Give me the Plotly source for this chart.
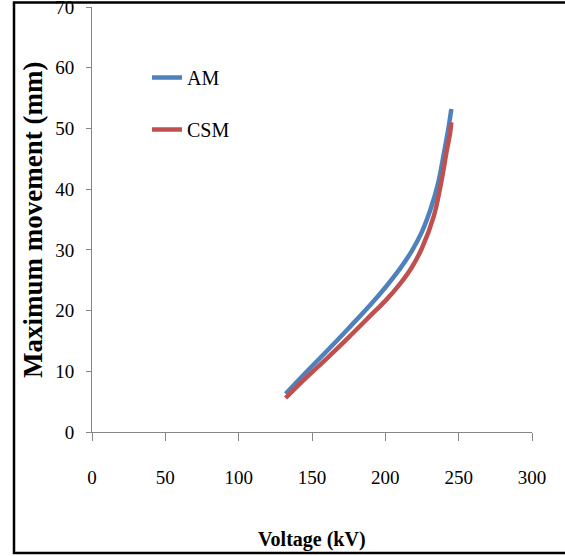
import plotly.graph_objects as go

# Data
am_voltage = [132, 145, 160, 175, 190, 200, 210, 218, 225, 231, 236, 240, 243, 245]
am_movement = [6.3, 9.6, 13.3, 17.1, 21.0, 23.8, 26.9, 29.8, 33.0, 36.8, 41.0, 46.0, 50.0, 53.2]
csm_voltage = [132, 145, 160, 175, 190, 200, 210, 218, 225, 233, 238, 242, 244, 245]
csm_movement = [5.6, 8.7, 12.1, 15.6, 19.2, 21.6, 24.4, 27.1, 30.3, 35.5, 41.0, 46.5, 49.0, 51.0]

x_ticks = [0, 50, 100, 150, 200, 250, 300]
y_ticks = [0, 10, 20, 30, 40, 50, 60, 70]

W, H = 565, 556
L, R, T, B = 92, 33, 7, 124
pw, ph = W - L - R, H - T - B

def px_x(p):
    return (p - L) / pw

def px_y(p):
    return (H - B - p) / ph

fig = go.Figure()
fig.add_trace(go.Scatter(x=am_voltage, y=am_movement, name="AM", mode="lines", legendgroup="am",
                         line=dict(color="#4F81BD", width=4.5, shape="spline", smoothing=1.0)))
fig.add_trace(go.Scatter(x=csm_voltage, y=csm_movement, name="CSM", mode="lines", legendgroup="csm",
                         line=dict(color="#C0504D", width=4.5, shape="spline", smoothing=1.0)))

tick_font = dict(family="Liberation Serif", size=19, color="#000000")

fig.update_layout(
    width=W, height=H,
    margin=dict(l=L, r=R, t=T, b=B),
    paper_bgcolor="white", plot_bgcolor="white",
    showlegend=True,
    legend=dict(x=px_x(147), y=px_y(58), xanchor="left", yanchor="top",
                font=dict(family="Liberation Serif", size=20, color="#000"),
                bgcolor="rgba(0,0,0,0)", tracegroupgap=23, itemwidth=30,
                traceorder="grouped"),
    xaxis=dict(range=[0, 300], tickvals=x_ticks, showgrid=False, zeroline=False,
               showline=True, linecolor="#868686", linewidth=1,
               ticks="outside", ticklen=8, tickcolor="#868686",
               tickfont=tick_font, ticklabelstandoff=20, automargin=False),
    yaxis=dict(range=[0, 70], tickvals=y_ticks, showgrid=False, zeroline=False,
               showline=True, linecolor="#868686", linewidth=1,
               ticks="outside", ticklen=5, tickcolor="#868686",
               tickfont=tick_font, ticklabelstandoff=8,
               ticklabeloverflow="allow", automargin=False),
    annotations=[
        dict(text="<b>Voltage (kV)</b>", xref="paper", yref="paper",
             x=px_x(312), y=px_y(539), xanchor="center", yanchor="middle",
             showarrow=False, font=dict(family="Liberation Serif", size=20, color="#000")),
        dict(text="<b>Maximum movement (mm)</b>", xref="paper", yref="paper",
             x=px_x(33), y=px_y(220), xanchor="center", yanchor="middle", textangle=-90,
             showarrow=False, font=dict(family="Liberation Serif", size=27, color="#000")),
    ],
    shapes=[
        dict(type="rect", xref="paper", yref="paper",
             x0=px_x(14), x1=px_x(570), y0=px_y(553), y1=px_y(2.5),
             line=dict(color="#000000", width=2.5), fillcolor="rgba(0,0,0,0)", layer="below"),
    ],
)

fig.write_html("out.html")
